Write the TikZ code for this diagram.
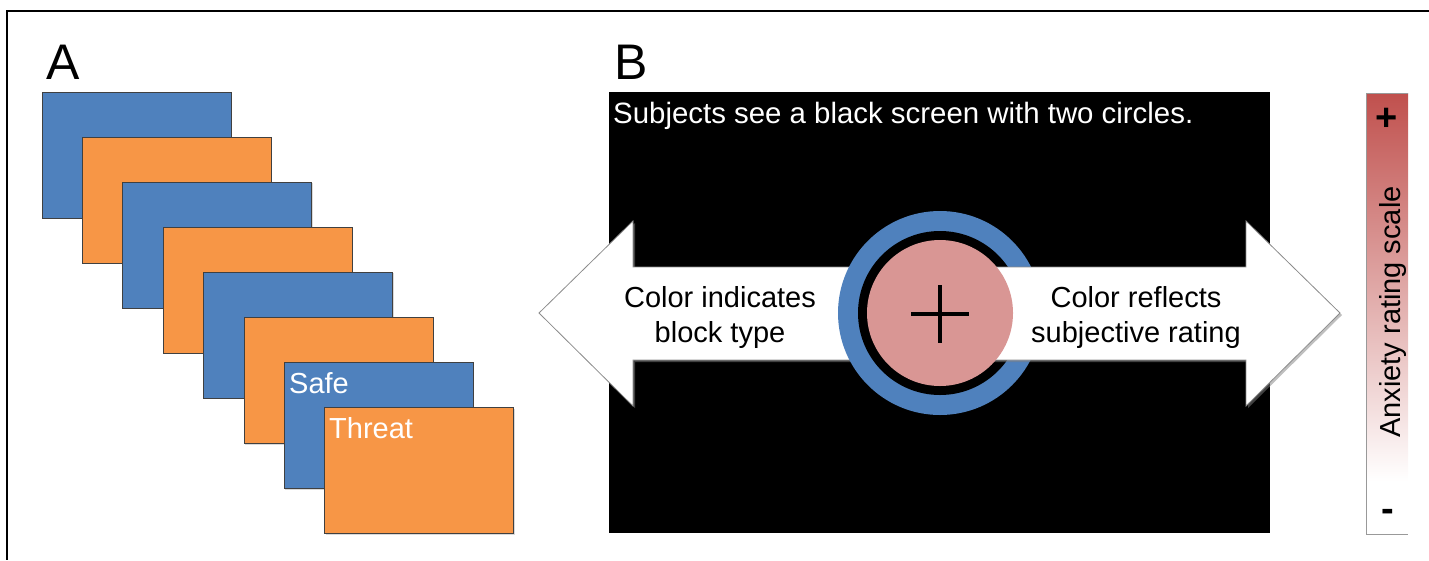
\documentclass[tikz,border=0pt]{standalone}
\usepackage{fontspec}
\setmainfont{Liberation Sans}
\usetikzlibrary{shadows}
\definecolor{offblue}{HTML}{4F81BD}
\definecolor{offorange}{HTML}{F79646}
\definecolor{offred}{HTML}{C0504D}
\definecolor{offpink}{HTML}{D99694}
\pgfdeclareverticalshading{anx}{100bp}{color(0bp)=(white); color(31bp)=(white); color(75bp)=(offred); color(100bp)=(offred)}
\begin{document}
\begin{tikzpicture}[x=1pt,y=-1pt,
  card/.style={draw=black!75, line width=0.8pt, drop shadow={shadow xshift=1pt, shadow yshift=-1pt, opacity=0.3}},
  bigarrow/.style={fill=white, draw=black!45, line width=0.8pt, drop shadow={shadow xshift=2pt, shadow yshift=-2pt, opacity=0.5}},
  paneltag/.style={font=\fontsize{50}{60}\selectfont, anchor=base west, inner sep=0pt},
  txt/.style={font=\fontsize{29}{35}\selectfont, inner sep=0pt},
  wtxt/.style={txt, text=white, anchor=base west},
  scalemark/.style={inner sep=0pt, font=\fontsize{38}{40}\selectfont\bfseries}
]
\useasboundingbox (0,0) rectangle (1429,560);
% outer frame (top and left)
\draw[line width=1.5pt] (1429,11) -- (7,11) -- (7,560);

% panel labels
\node[paneltag] (labA) at (46,79) {A};
\node[paneltag] (labB) at (614,79) {B};

% panel A: stacked cards
\foreach \i in {0,...,7}{
  \pgfmathsetmacro{\xx}{42+40.4*\i}
  \pgfmathsetmacro{\yy}{92+45.1*\i}
  \pgfmathtruncatemacro{\myparity}{mod(\i,2)}
  \ifnum\myparity=0
    \fill[card, fill=offblue] (\xx,\yy) rectangle ++(189,126);
  \else
    \fill[card, fill=offorange] (\xx,\yy) rectangle ++(189,126);
  \fi
}
\node[wtxt] (safe) at (289,393) {Safe};
\node[wtxt] (threat) at (329,438) {Threat};

% panel B: black screen
\fill[black] (609,92) rectangle (1270,533);
\node[wtxt, font=\fontsize{29.4}{35}\selectfont] (subj) at (613,123) {Subjects see a black screen with two circles.};

% left arrow
\path[bigarrow] (539,313) -- (633,221) -- (633,267) -- (940,267) -- (940,360) -- (633,360) -- (633,406) -- cycle;
% rings
\fill[offblue] (940,313) circle (102);
\fill[black] (940,313) circle (82);
% right arrow
\path[bigarrow] (1340,313) -- (1246,221) -- (1246,267) -- (940,267) -- (940,360) -- (1246,360) -- (1246,406) -- cycle;
% inner disk with fixation cross
\fill[offpink] (940,313) circle (73);
\coordinate (cl) at (911,314);
\coordinate (cr) at (969,314);
\coordinate (ct) at (940,285);
\coordinate (cb) at (940,343);
\draw[line width=4pt] (cl) -- (cr) (ct) -- (cb);

\node[txt, align=center] (left) at (720,317) {Color indicates\\block type};
\node[txt, align=center] (right) at (1136,317) {Color reflects\\subjective rating};

% rating scale
\shade[shading=anx] (1366,93) rectangle (1408,534);
\draw[black!40, line width=1pt] (1408,93) -- (1366,93) -- (1366,534) -- (1408,534);
\node[scalemark] (plus) at (1387,119) {+};
\node[scalemark] (minus) at (1387.5,515) {-};
\node[txt, rotate=90, anchor=base] (scale) at (1400,312) {Anxiety rating scale};
\end{tikzpicture}
\end{document}
